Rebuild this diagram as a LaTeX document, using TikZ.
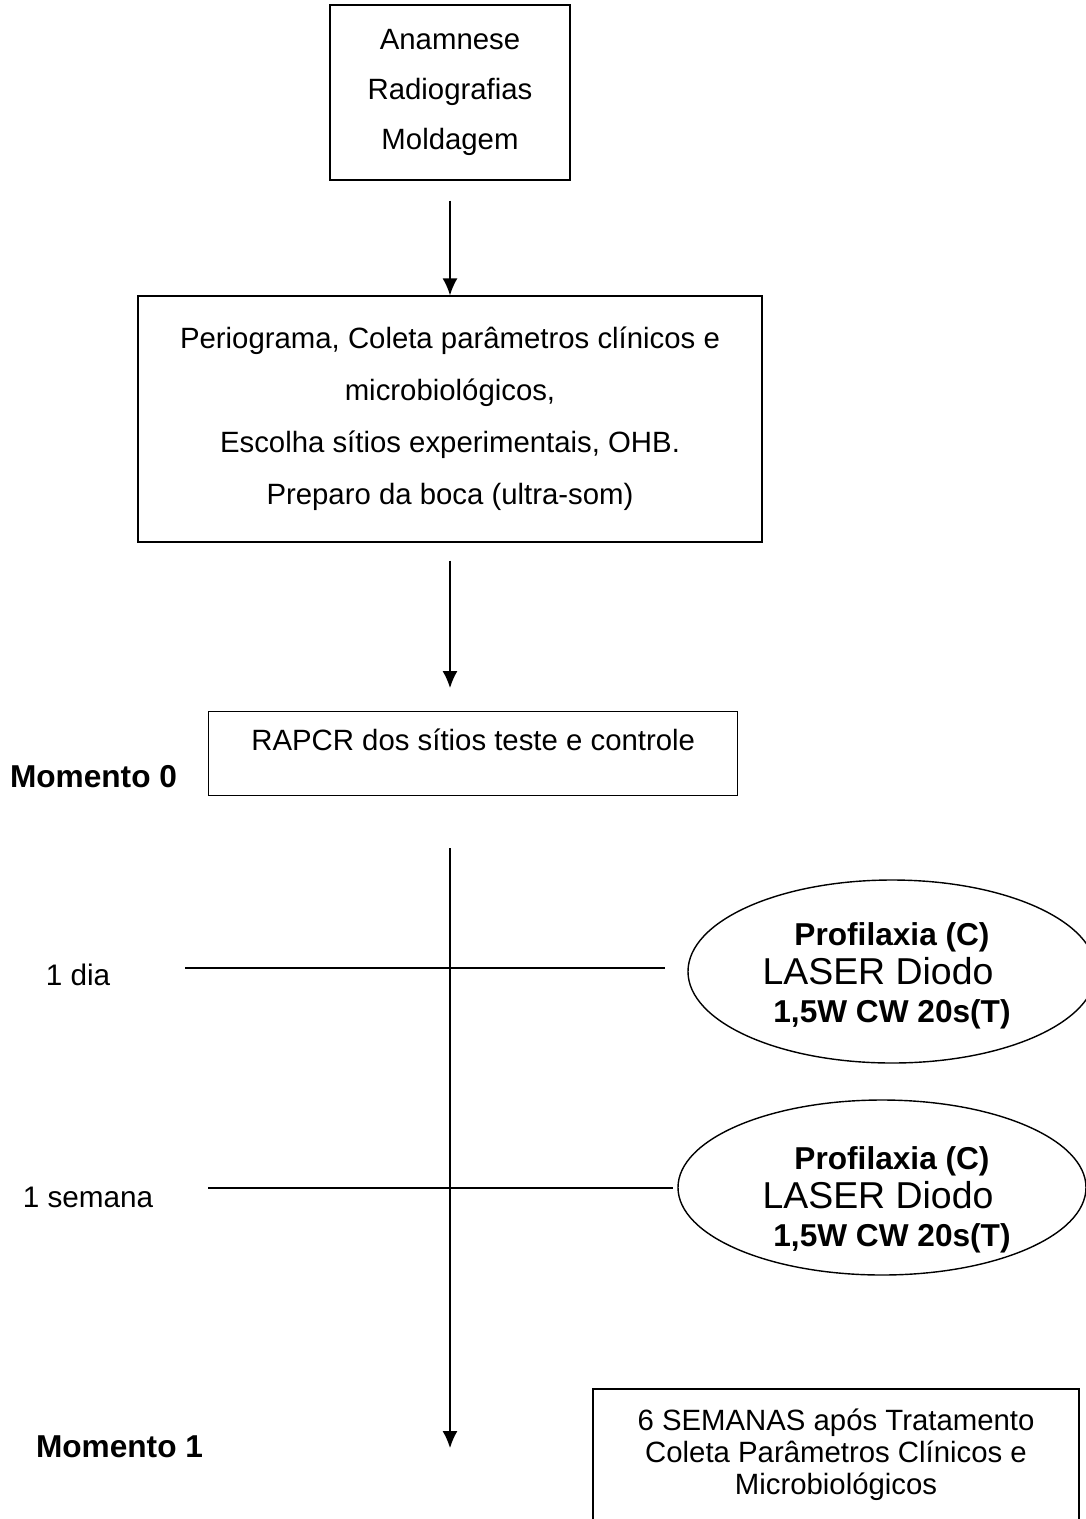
\documentclass[tikz,border=0pt]{standalone}
\usepackage{fontspec}
\setmainfont{Liberation Sans}
\usetikzlibrary{shapes.geometric,arrows.meta}

\newcommand{\textolaser}{{\bfseries\fontsize{18}{22}\selectfont Profilaxia (C)}\\
  {\fontsize{21.3}{22}\selectfont\hbox{LASER Diodo\kern0.56cm}}\\
  {\bfseries\fontsize{18}{22}\selectfont 1,5W CW 20s(T)}}

\begin{document}
\begin{tikzpicture}[>={Latex[length=3.4mm,width=3mm]},line width=0.8pt,
    caixa/.style={draw,align=center,font=\fontsize{16.7}{28.5}\selectfont},
    elipse/.style={draw,ellipse,inner sep=0pt,minimum width=8.16cm},
    textoelipse/.style={inner sep=0pt,align=center,font=\fontsize{18}{21.9}\selectfont},
    rotulo/.style={font=\fontsize{16.9}{20}\selectfont},
    momento/.style={font=\bfseries\fontsize{18}{22}\selectfont}]

  \useasboundingbox (0,0) rectangle (21.72,-30.38);
  \clip (0,0) rectangle (21.72,-30.38);

  % Caixas do inicio
  \node[caixa,minimum width=4.8cm,minimum height=3.5cm] (anamnese) at (9,-1.85)
    {Anamnese\\Radiografias\\Moldagem};
  \node[caixa,minimum width=12.48cm,minimum height=4.92cm,
    font=\fontsize{16.7}{29.6}\selectfont] (periograma) at (9,-8.38)
    {Periograma, Coleta parâmetros clínicos e\\microbiológicos,\\
     Escolha sítios experimentais, OHB.\\Preparo da boca (ultra-som)};
  \node[caixa,anchor=north west,minimum width=10.58cm,inner ysep=0pt,
    text height=0.78cm,text depth=0.9cm] (rapcr) at (4.16,-14.22)
    {RAPCR dos sítios teste e controle};

  % Setas
  \draw[->] ([yshift=-0.4cm]anamnese.south) -- (periograma.north);
  \coordinate (fimseta) at (9,-13.76);
  \draw[->] ([yshift=-0.36cm]periograma.south) -- (fimseta);

  % Linha do tempo
  \node[momento] (m0) at (1.87,-15.54) {Momento 0};
  \coordinate (t0) at (9,-16.96);
  \coordinate (t1) at (9,-28.96);
  \draw[->] (t0) -- (t1);
  \node[momento] (m1) at (2.39,-28.94) {Momento 1};

  % 1 dia
  \node[rotulo] (dia) at (1.56,-19.5) {1 dia};
  \coordinate (dia0) at (3.7,-19.36);
  \coordinate (dia1) at (13.3,-19.36);
  \draw (dia0) -- (dia1);
  \node[elipse,minimum height=3.66cm] (laser1) at (17.84,-19.43) {};
  \node[textoelipse] (txt1) at (17.84,-19.52) {\textolaser};

  % 1 semana
  \node[rotulo] (semana) at (1.76,-23.94) {1 semana};
  \coordinate (sem0) at (4.16,-23.76);
  \coordinate (sem1) at (13.46,-23.76);
  \draw (sem0) -- (sem1);
  \node[elipse,minimum height=3.5cm] (laser2) at (17.64,-23.75) {};
  \node[textoelipse] (txt2) at (17.84,-24.0) {\textolaser};

  % 6 semanas
  \node[caixa,minimum width=9.72cm,minimum height=2.64cm,
    font=\fontsize{16.7}{18.2}\selectfont] (semanas) at (16.72,-29.1)
    {6 SEMANAS após Tratamento\\Coleta Parâmetros Clínicos e\\Microbiológicos};

\end{tikzpicture}
\end{document}
